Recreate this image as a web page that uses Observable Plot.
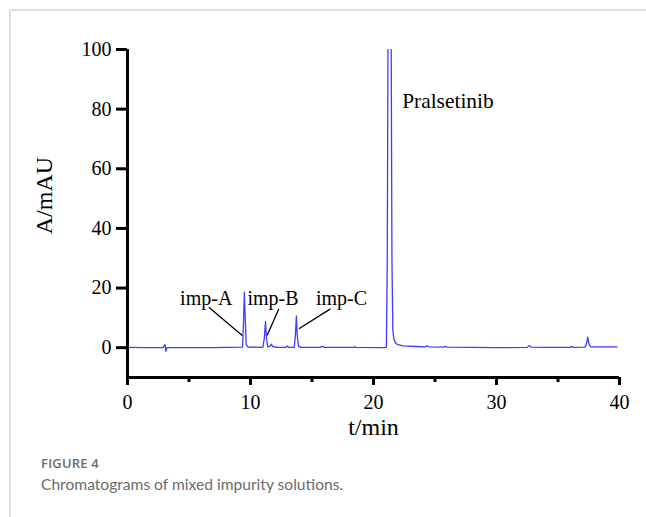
<!DOCTYPE html>
<html>
<head>
<meta charset="utf-8">
<script src="https://cdn.jsdelivr.net/npm/d3@7"></script>
<script src="https://cdn.jsdelivr.net/npm/@observablehq/plot@0.6"></script>
<style>
  html, body { margin: 0; padding: 0; background: #fff; }
  #wrap { position: relative; width: 646px; height: 517px; overflow: hidden; }
  #frame { position: absolute; left: 9px; top: 9px; width: 700px; height: 600px;
           border-left: 2px solid #dedede; border-top: 2px solid #dedede; }
  #chart { position: absolute; left: 0; top: 0; }
  #cap1 { position: absolute; left: 41px; top: 454px; font-family: "Open Sans", sans-serif;
          font-size: 13px; font-weight: 600; color: #6b6b6b; letter-spacing: 0.2px; }
  #cap2 { position: absolute; left: 41px; top: 475px; font-family: Lato, "Open Sans", sans-serif;
          font-size: 15.6px; color: #6b6b6b; }
</style>
</head>
<body>
<div id="wrap">
  <div id="frame"></div>
  <div id="chart"></div>
  <div id="cap1">FIGURE 4</div>
  <div id="cap2">Chromatograms of mixed impurity solutions.</div>
</div>
<script>
// Chromatogram trace: retention time (min), absorbance (mAU)
const times = [0, 1.5, 2.9, 3.05, 3.12, 3.2, 5, 7, 9.35, 9.43, 9.5, 9.57, 9.65, 9.8,
  11.0, 11.12, 11.22, 11.3, 11.4, 11.6, 11.7, 11.8, 12.2, 12.9, 13.0, 13.1,
  13.55, 13.65, 13.73, 13.8, 13.9, 14.1, 15.7, 15.85, 16.0, 18.4, 18.5, 18.6,
  20.9, 21.05, 21.12, 21.2, 21.35, 21.44, 21.5, 21.57, 21.65, 21.8, 22.0, 22.4,
  23.5, 24.2, 24.35, 24.5, 25.7, 25.85, 26.0, 28, 30, 32.5, 32.65, 32.8, 34,
  36.0, 36.1, 36.2, 37.2, 37.32, 37.42, 37.52, 37.65, 39.8];
const absorb = [0.1, 0.05, 0.0, 1.0, -1.2, 0.0, 0.05, 0.0, 0.2, 8, 18.6, 10, 1, 0.2,
  0.1, 3, 8.8, 3, 0.3, 0.5, 1.2, 0.4, 0.1, 0.1, 0.6, 0.1,
  0.1, 4, 10.7, 4, 0.5, 0.1, 0.1, 0.5, 0.1, 0.1, 0.3, 0.1,
  0.0, 0.2, 30, 130, 140, 100, 30, 6, 3, 1.5, 1, 0.6,
  0.4, 0.3, 0.6, 0.3, 0.2, 0.4, 0.2, 0.1, 0.0, 0.1, 0.7, 0.2, 0.1,
  0.1, 0.5, 0.1, 0.2, 1.5, 3.5, 1.2, 0.3, 0.3];

// Peak annotations: label, label position, leader line (from -> to)
const peakNames = ["imp-A", "imp-B", "imp-C"];
const labelX = [6.4, 11.83, 17.4];
const labelY = [14.3, 14.3, 14.3];
const leadX1 = [6.61, 12.3, 16.5];
const leadY1 = [13.6, 13.0, 13.0];
const leadX2 = [9.33, 11.35, 13.94];
const leadY2 = [4.1, 4.1, 6.35];
const mainName = "Pralsetinib";
const mainX = 22.33, mainY = 80.3;

const xMajor = [0, 10, 20, 30, 40];
const xMinor = [5, 15, 25, 35];
const yTicks = [0, 20, 40, 60, 80, 100];
const xLabel = "t/min";
const yLabel = "A/mAU";
const yLabelPos = {x: -6.8, y: 51};

const trace = times.map((t, i) => ({t, a: absorb[i]}));
const notes = peakNames.map((n, i) => ({n, x: labelX[i], y: labelY[i],
  x1: leadX1[i], y1: leadY1[i], x2: leadX2[i], y2: leadY2[i]}));

const serif = "'Liberation Serif', 'Times New Roman', serif";

const chart = Plot.plot({
  width: 646,
  height: 445,
  marginLeft: 127,
  marginRight: 27,
  marginTop: 49,
  marginBottom: 68,
  style: {fontFamily: serif, color: "#000", background: "transparent", overflow: "visible"},
  x: {domain: [0, 40]},
  y: {domain: [-10, 100]},
  marks: [
    Plot.line(trace, {x: "t", y: "a", stroke: "#3d3dff", strokeWidth: 1.3, clip: true}),
    Plot.link(notes, {x1: "x1", y1: "y1", x2: "x2", y2: "y2", stroke: "#000", strokeWidth: 1.3}),
    Plot.text(notes, {x: "x", y: "y", text: "n", fontSize: 20, lineAnchor: "bottom", textAnchor: "middle", fill: "#000"}),
    Plot.text([mainName], {x: mainX, y: mainY, text: d => d, fontSize: 21.4, lineAnchor: "bottom", textAnchor: "start", fill: "#000"}),
    Plot.axisY({ticks: yTicks, tickSize: 11, tickPadding: 5, strokeWidth: 3, fontSize: 20, label: null}),
    Plot.axisX({ticks: xMajor, tickSize: 8, tickPadding: 9, strokeWidth: 3, fontSize: 20, label: null}),
    Plot.axisX({ticks: xMinor, tickSize: 5, strokeWidth: 3, tickFormat: () => "", label: null}),
    Plot.ruleX([0], {y1: -10, y2: 100, strokeWidth: 3, stroke: "#000"}),
    Plot.ruleY([-10], {x1: 0, x2: 40, strokeWidth: 3, stroke: "#000"}),
    Plot.text([xLabel], {frameAnchor: "bottom", dy: 50, text: d => d, fontSize: 24, lineAnchor: "middle", fill: "#000"}),
    Plot.text([yLabel], {x: yLabelPos.x, y: yLabelPos.y, rotate: -90, text: d => d, fontSize: 24, lineAnchor: "middle", textAnchor: "middle", fill: "#000"})
  ]
});
document.getElementById("chart").appendChild(chart);
</script>
</body>
</html>
